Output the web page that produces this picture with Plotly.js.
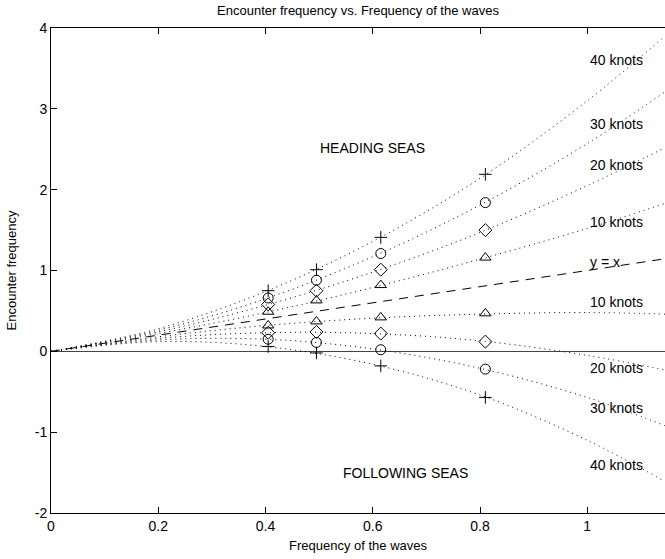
<!DOCTYPE html>
<html>
<head>
<meta charset="utf-8">
<script src="https://cdn.plot.ly/plotly-3.0.1.min.js"></script>
<style>html,body{margin:0;padding:0;background:#fff;}#chart{width:665px;height:559px;}</style>
</head>
<body>
<div id="chart"></div>
<script>
// Curve sample points (wave frequency)
const curveX = [0, 0.2, 0.4, 0.6, 0.8, 1.0, 1.145];
// Heading seas curves (encounter frequency)
const head10 = [0, 0.22, 0.48, 0.79, 1.14, 1.52, 1.83];
const head20 = [0, 0.24, 0.57, 0.98, 1.47, 2.05, 2.52];
const head30 = [0, 0.26, 0.65, 1.17, 1.81, 2.57, 3.21];
const head40 = [0, 0.28, 0.74, 1.36, 2.14, 3.10, 3.90];
// Following seas curves
const foll10 = [0, 0.18, 0.32, 0.41, 0.46, 0.48, 0.46];
const foll20 = [0, 0.16, 0.23, 0.22, 0.13, -0.05, -0.23];
const foll30 = [0, 0.14, 0.15, 0.03, -0.21, -0.57, -0.92];
const foll40 = [0, 0.12, 0.06, -0.16, -0.54, -1.10, -1.61];
// y = x reference line
const refX = [0, 1.145];
const refY = [0, 1.145];
// Measured points
const markX = [0.405, 0.495, 0.615, 0.81];
const mHead10 = [0.49, 0.63, 0.82, 1.16];
const mHead20 = [0.58, 0.75, 1.01, 1.50];
const mHead30 = [0.66, 0.88, 1.21, 1.84];
const mHead40 = [0.75, 1.01, 1.41, 2.19];
const mFoll10 = [0.32, 0.37, 0.42, 0.47];
const mFoll20 = [0.23, 0.24, 0.22, 0.12];
const mFoll30 = [0.15, 0.11, 0.02, -0.22];
const mFoll40 = [0.06, -0.02, -0.18, -0.57];
// Tick labels
const xTickVals = [0, 0.2, 0.4, 0.6, 0.8, 1];
const xTickText = ["0", "0.2", "0.4", "0.6", "0.8", "1"];
const yTickVals = [-2, -1, 0, 1, 2, 3, 4];
const yTickText = ["-2", "-1", "0", "1", "2", "3", "4"];
// Labels
const curveLabels = ["40 knots", "30 knots", "20 knots", "10 knots", "y = x", "10 knots", "20 knots", "30 knots", "40 knots"];
const curveLabelY = [3.60, 2.81, 2.30, 1.60, 1.10, 0.61, -0.20, -0.70, -1.41];
const regionLabels = ["HEADING SEAS", "FOLLOWING SEAS"];
const regionLabelX = [0.600, 0.661];
const regionLabelY = [2.51, -1.50];

const dotLine = {color: "#000", width: 1, dash: "1px,4px", shape: "spline"};
const traces = [];
[head10, head20, head30, head40, foll10, foll20, foll30, foll40].forEach(ys => {
  traces.push({x: curveX, y: ys, mode: "lines", line: dotLine, hoverinfo: "skip"});
});
traces.push({x: refX, y: refY, mode: "lines", line: {color: "#000", width: 1, dash: "9px,7px"}});

function marks(ys, sym, size) {
  return {x: markX, y: ys, mode: "markers",
    marker: {symbol: sym, size: size, color: "#000", line: {color: "#000", width: 1}}};
}
traces.push(marks(mHead40, "cross-thin-open", 9));
traces.push(marks(mFoll40, "cross-thin-open", 9));
traces.push(marks(mHead30, "circle-open", 10));
traces.push(marks(mFoll30, "circle-open", 10));
traces.push(marks(mHead20, "diamond-open", 10));
traces.push(marks(mFoll20, "diamond-open", 10));
traces.push(marks(mHead10, "triangle-up-open", 10));
traces.push(marks(mFoll10, "triangle-up-open", 10));

const fam = "Liberation Sans, Arial, sans-serif";
const font = {family: fam, size: 14, color: "#000"};
const annotations = curveLabels.map((t, i) => ({
  x: 1.001, y: curveLabelY[i], xref: "x", yref: "y", text: t, showarrow: false,
  xanchor: "left", yanchor: "middle", font: font
}));
regionLabels.forEach((t, i) => annotations.push({
  x: regionLabelX[i], y: regionLabelY[i], xref: "x", yref: "y", text: t, showarrow: false,
  xanchor: "center", yanchor: "middle", font: font
}));

const layout = {
  width: 665, height: 559,
  margin: {l: 51, r: 0, t: 28, b: 46},
  paper_bgcolor: "#fff", plot_bgcolor: "#fff",
  showlegend: false,
  font: font,
  title: {text: "Encounter frequency vs. Frequency of the waves", font: {family: fam, size: 13, color: "#000"},
          x: 0.5, xref: "paper", y: 0.982, yanchor: "middle"},
  xaxis: {range: [0, 1.145], tickvals: xTickVals, ticktext: xTickText,
          ticks: "inside", ticklen: 6, tickcolor: "#000", showgrid: false, zeroline: false,
          showline: true, linecolor: "#000", linewidth: 1, mirror: "ticks",
          tickfont: {family: fam, size: 14, color: "#000"},
          title: {text: "Frequency of the waves", font: {family: fam, size: 13, color: "#000"}, standoff: 8}},
  yaxis: {range: [-2, 4], tickvals: yTickVals, ticktext: yTickText, ticks: "inside", ticklen: 6, tickcolor: "#000",
          showgrid: false, zeroline: true, zerolinecolor: "#444", zerolinewidth: 1,
          showline: true, linecolor: "#000", linewidth: 1,
          tickfont: {family: fam, size: 14, color: "#000"},
          title: {text: "Encounter frequency", font: {family: fam, size: 13, color: "#000"}, standoff: 15}},
  annotations: annotations
};
Plotly.newPlot("chart", traces, layout, {displayModeBar: false, staticPlot: true});
</script>
</body>
</html>
